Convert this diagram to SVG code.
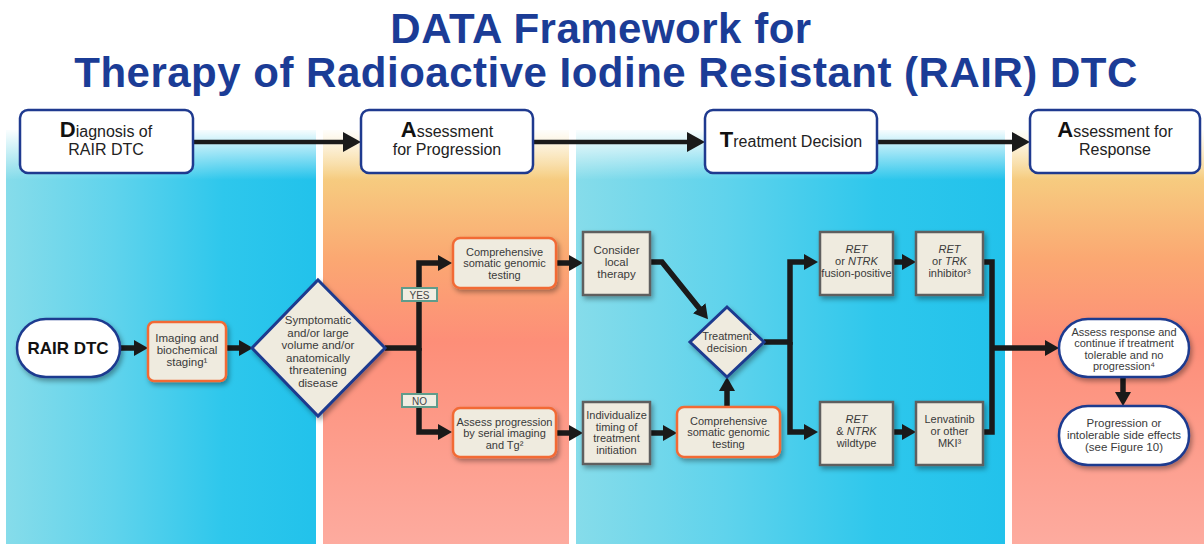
<svg xmlns="http://www.w3.org/2000/svg" width="1204" height="544" viewBox="0 0 1204 544">
<defs>
<style>
text{font-family:"Liberation Sans",Arial,sans-serif;}
.title{font-size:42px;font-weight:bold;fill:#1b3c96;text-anchor:middle;letter-spacing:0.5px;}
.h{font-size:16px;fill:#222;text-anchor:middle;}
.big{font-size:22px;font-weight:bold;fill:#111;}
.hbox{fill:#fff;stroke:#1f3a8f;stroke-width:2.5;}
.t{font-size:11.5px;fill:#3a3a3a;text-anchor:middle;}
.ts{font-size:11px;fill:#3a3a3a;text-anchor:middle;}
.ob{fill:#efebdf;stroke:#f26b35;stroke-width:2.5;}
.gb{fill:#efebdf;stroke:#5e5e5e;stroke-width:2.5;}
.dm{fill:#efebdf;stroke:#1f3a8f;stroke-width:3;}
.pill{fill:#fff;stroke:#1f3a8f;stroke-width:2.5;}
.lab{fill:#f0ede2;stroke:#5f9c8b;stroke-width:2;}
.lt{font-size:10px;fill:#444;text-anchor:middle;}
.c{fill:none;stroke:#1a1a1a;stroke-width:5.5;stroke-linejoin:miter;}
.hc{fill:none;stroke:#1a1a1a;stroke-width:4.5;}
</style>
<marker id="ah" markerUnits="userSpaceOnUse" markerWidth="15" markerHeight="17" refX="6" refY="8" orient="auto">
<path d="M0,0 L14,8 L0,16 z" fill="#1a1a1a"/>
</marker>
<marker id="hh" markerUnits="userSpaceOnUse" markerWidth="19" markerHeight="21" refX="8" refY="10" orient="auto">
<path d="M0,0 L18,10 L0,20 z" fill="#1a1a1a"/>
</marker>
<linearGradient id="blue" x1="0" y1="0" x2="1" y2="0">
<stop offset="0" stop-color="#86dcea"/>
<stop offset="0.35" stop-color="#5fd3ec"/>
<stop offset="0.7" stop-color="#2ec7ec"/>
<stop offset="1" stop-color="#22c2eb"/>
</linearGradient>
<linearGradient id="orange" gradientUnits="userSpaceOnUse" x1="0" y1="130" x2="0" y2="544">
<stop offset="0" stop-color="#f7dc9a"/>
<stop offset="0.11" stop-color="#f6cd80"/>
<stop offset="0.31" stop-color="#fba872"/>
<stop offset="0.51" stop-color="#fd8e78"/>
<stop offset="1" stop-color="#fdab9f"/>
</linearGradient>
<linearGradient id="fade" x1="0" y1="0" x2="0" y2="1">
<stop offset="0" stop-color="#fff" stop-opacity="1"/>
<stop offset="1" stop-color="#fff" stop-opacity="0"/>
</linearGradient>
<filter id="sh" x="-20%" y="-20%" width="150%" height="150%">
<feDropShadow dx="2" dy="3" stdDeviation="2.5" flood-color="#000" flood-opacity="0.35"/>
</filter>
</defs>

<rect x="0" y="0" width="1204" height="544" fill="#fff"/>

<g id="panels">
<rect x="6" y="130" width="310" height="414" fill="url(#blue)"/>
<rect x="323" y="130" width="246" height="414" fill="url(#orange)"/>
<rect x="576" y="130" width="429" height="414" fill="url(#blue)"/>
<rect x="1012" y="130" width="192" height="414" fill="url(#orange)"/>
<rect x="0" y="128" width="1204" height="52" fill="url(#fade)"/>
</g>

<g id="title">
<text class="title" x="601" y="43">DATA Framework for</text>
<text class="title" x="606" y="87">Therapy of Radioactive Iodine Resistant (RAIR) DTC</text>
</g>

<g id="connectors">
<path class="hc" d="M193,142 H351" marker-end="url(#hh)"/>
<path class="hc" d="M533,142 H695" marker-end="url(#hh)"/>
<path class="hc" d="M877,142 H1020" marker-end="url(#hh)"/>
<path class="c" d="M120,348 H140" marker-end="url(#ah)"/>
<path class="c" d="M226,348 H245" marker-end="url(#ah)"/>
<path class="c" d="M385,348 H419 V263 H444" marker-end="url(#ah)"/>
<path class="c" d="M419,348 V432 H444" marker-end="url(#ah)"/>
<path class="c" d="M556,263 H575" marker-end="url(#ah)"/>
<path class="c" d="M556,433 H575" marker-end="url(#ah)"/>
<path class="c" d="M650,262 H662 L703,313" marker-end="url(#ah)"/>
<path class="c" d="M650,433 H669" marker-end="url(#ah)"/>
<path class="c" d="M727,407 V385" marker-end="url(#ah)"/>
<path class="c" d="M764,342 H790 V262 H810" marker-end="url(#ah)"/>
<path class="c" d="M790,342 V432 H810" marker-end="url(#ah)"/>
<path class="c" d="M893,262 H908" marker-end="url(#ah)"/>
<path class="c" d="M893,432 H908" marker-end="url(#ah)"/>
<path class="c" d="M983,262 H992 V432 H983"/>
<path class="c" d="M992,348 H1051" marker-end="url(#ah)"/>
<path class="c" d="M1123,377 V398" marker-end="url(#ah)"/>
</g>

<g id="labels">
<rect class="lab" x="402" y="288" width="35" height="13"/>
<text class="lt" x="419.5" y="298.5">YES</text>
<rect class="lab" x="402" y="394" width="35" height="13"/>
<text class="lt" x="419.5" y="404.5">NO</text>
</g>

<g id="h-diagnosis">
<rect class="hbox" x="20" y="110" width="173" height="63" rx="8"/>
<text class="h" x="106" y="137"><tspan class="big">D</tspan>iagnosis of</text>
<text class="h" x="106" y="155">RAIR DTC</text>
</g>
<g id="h-assessment-progression">
<rect class="hbox" x="361" y="110" width="172" height="63" rx="8"/>
<text class="h" x="447" y="137"><tspan class="big">A</tspan>ssessment</text>
<text class="h" x="447" y="155">for Progression</text>
</g>
<g id="h-treatment-decision">
<rect class="hbox" x="705" y="110" width="172" height="63" rx="8"/>
<text class="h" x="791" y="147"><tspan class="big">T</tspan>reatment Decision</text>
</g>
<g id="h-assessment-response">
<rect class="hbox" x="1030" y="110" width="170" height="63" rx="8"/>
<text class="h" x="1115" y="137"><tspan class="big">A</tspan>ssessment for</text>
<text class="h" x="1115" y="155">Response</text>
</g>

<g id="rair-dtc">
<rect class="pill" x="17" y="319" width="103" height="58" rx="29" filter="url(#sh)"/>
<text x="68" y="354" style="font-size:17px;font-weight:bold;fill:#111;text-anchor:middle">RAIR DTC</text>
</g>
<g id="imaging">
<rect class="ob" x="148" y="322" width="78" height="59" rx="6" filter="url(#sh)"/>
<text class="t" x="187" y="342">Imaging and</text>
<text class="t" x="187" y="354">biochemical</text>
<text class="t" x="187" y="366">staging¹</text>
</g>
<g id="symptomatic">
<polygon class="dm" points="318,280 385,348 318,416 252,348" filter="url(#sh)"/>
<text class="t" x="318" y="324">Symptomatic</text>
<text class="t" x="318" y="336.5">and/or large</text>
<text class="t" x="318" y="349">volume and/or</text>
<text class="t" x="318" y="361.5">anatomically</text>
<text class="t" x="318" y="374">threatening</text>
<text class="t" x="318" y="386.5">disease</text>
</g>
<g id="cgt1">
<rect class="ob" x="453" y="238" width="103" height="50" rx="7" filter="url(#sh)"/>
<text class="ts" x="504.5" y="255.5">Comprehensive</text>
<text class="ts" x="504.5" y="267">somatic genomic</text>
<text class="ts" x="504.5" y="278.5">testing</text>
</g>
<g id="assess-progression">
<rect class="ob" x="453" y="408" width="103" height="49" rx="7" filter="url(#sh)"/>
<text class="ts" x="504.5" y="425.5">Assess progression</text>
<text class="ts" x="504.5" y="437">by serial imaging</text>
<text class="ts" x="504.5" y="448.5">and Tg²</text>
</g>
<g id="local-therapy">
<rect class="gb" x="583" y="232" width="67" height="63" filter="url(#sh)"/>
<text class="t" x="616.5" y="254">Consider</text>
<text class="t" x="616.5" y="266">local</text>
<text class="t" x="616.5" y="278">therapy</text>
</g>
<g id="individualize">
<rect class="gb" x="583" y="402" width="67" height="62" filter="url(#sh)"/>
<text class="ts" x="616.5" y="419">Individualize</text>
<text class="ts" x="616.5" y="430.5">timing of</text>
<text class="ts" x="616.5" y="442">treatment</text>
<text class="ts" x="616.5" y="453.5">initiation</text>
</g>
<g id="cgt2">
<rect class="ob" x="677" y="407" width="103" height="50" rx="7" filter="url(#sh)"/>
<text class="ts" x="728.5" y="424.5">Comprehensive</text>
<text class="ts" x="728.5" y="436">somatic genomic</text>
<text class="ts" x="728.5" y="447.5">testing</text>
</g>
<g id="treatment-decision">
<polygon class="dm" points="727,307 764,342 727,377 690,342" filter="url(#sh)"/>
<text class="ts" x="727" y="340">Treatment</text>
<text class="ts" x="727" y="351.5">decision</text>
</g>
<g id="fusion-positive">
<rect class="gb" x="820" y="232" width="73" height="63" filter="url(#sh)"/>
<text class="ts" x="856.5" y="253"><tspan font-style="italic">RET</tspan></text>
<text class="ts" x="856.5" y="265">or <tspan font-style="italic">NTRK</tspan></text>
<text class="ts" x="856.5" y="277">fusion-positive</text>
</g>
<g id="inhibitor">
<rect class="gb" x="916" y="232" width="67" height="63" filter="url(#sh)"/>
<text class="ts" x="949.5" y="253"><tspan font-style="italic">RET</tspan></text>
<text class="ts" x="949.5" y="265">or <tspan font-style="italic">TRK</tspan></text>
<text class="ts" x="949.5" y="277">inhibitor³</text>
</g>
<g id="wildtype">
<rect class="gb" x="820" y="402" width="73" height="63" filter="url(#sh)"/>
<text class="ts" x="856.5" y="423"><tspan font-style="italic">RET</tspan></text>
<text class="ts" x="856.5" y="435">&amp; <tspan font-style="italic">NTRK</tspan></text>
<text class="ts" x="856.5" y="447">wildtype</text>
</g>
<g id="lenvatinib">
<rect class="gb" x="916" y="402" width="67" height="63" filter="url(#sh)"/>
<text class="ts" x="949.5" y="423">Lenvatinib</text>
<text class="ts" x="949.5" y="435">or other</text>
<text class="ts" x="949.5" y="447">MKI³</text>
</g>
<g id="assess-response">
<rect class="pill" x="1059" y="319" width="130" height="58" rx="29" filter="url(#sh)"/>
<text class="ts" x="1124" y="335.5">Assess response and</text>
<text class="ts" x="1124" y="347">continue if treatment</text>
<text class="ts" x="1124" y="358.5">tolerable and no</text>
<text class="ts" x="1124" y="370">progression⁴</text>
</g>
<g id="progression">
<rect class="pill" x="1059" y="406" width="130" height="59" rx="29" filter="url(#sh)"/>
<text class="t" x="1124" y="427">Progression or</text>
<text class="t" x="1124" y="439">intolerable side effects</text>
<text class="t" x="1124" y="451">(see Figure 10)</text>
</g>
</svg>
